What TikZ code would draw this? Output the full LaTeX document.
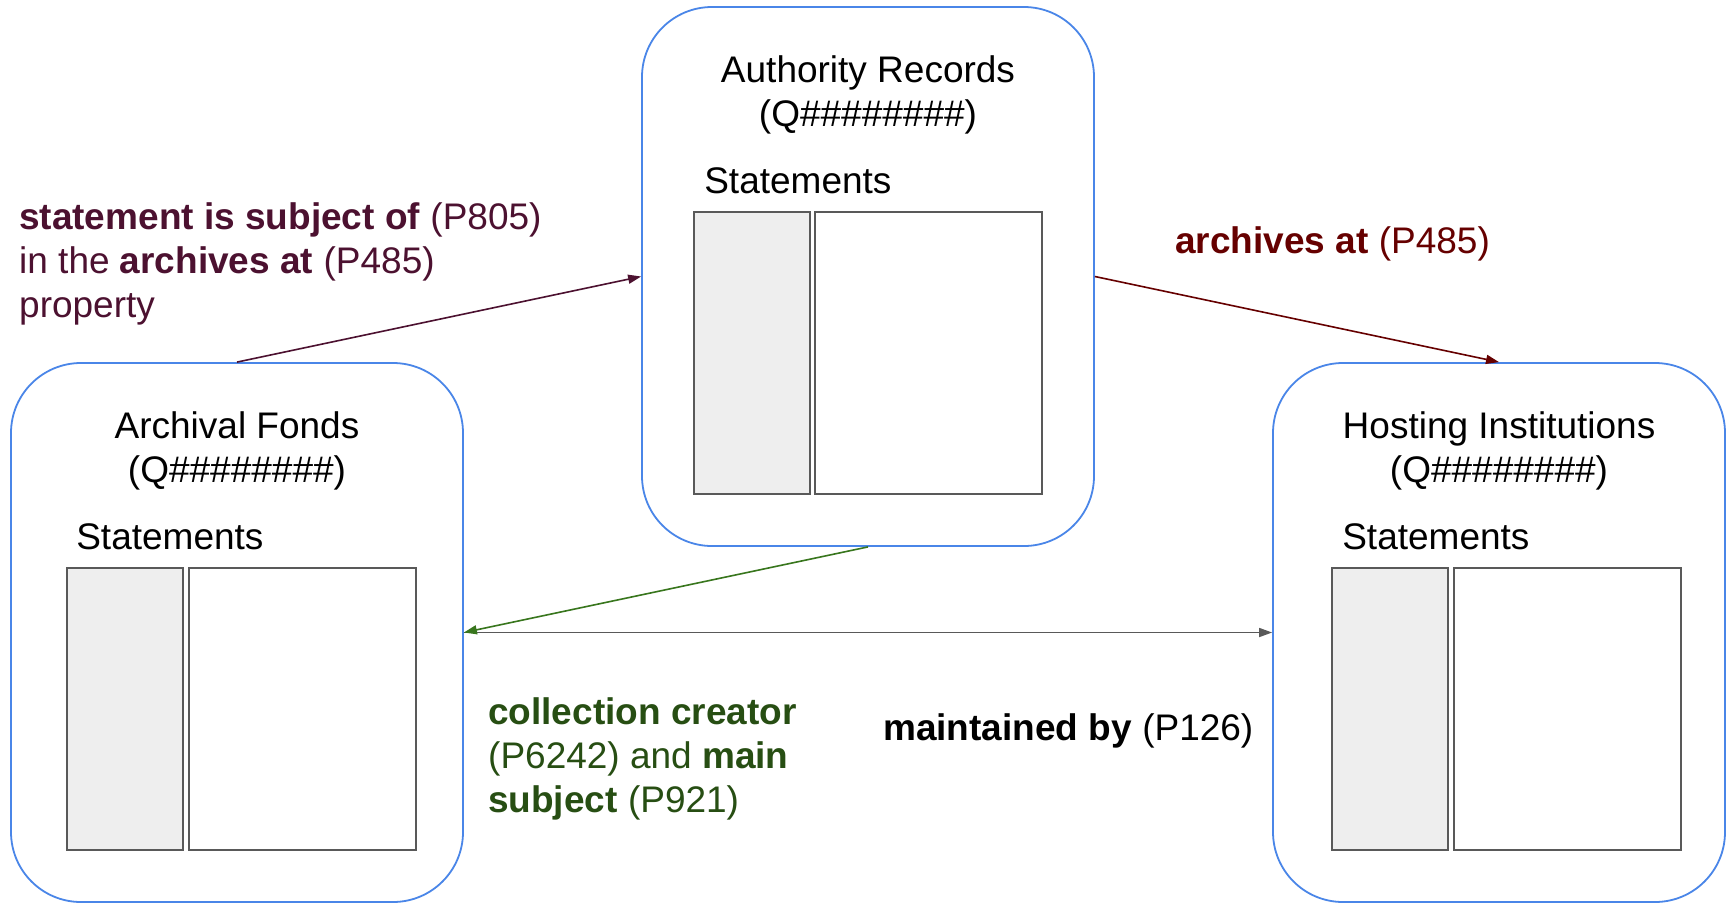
\documentclass[tikz,border=0pt]{standalone}
\usepackage{fontspec}
\setmainfont{Liberation Sans}
\usetikzlibrary{arrows.meta}
\definecolor{boxblue}{HTML}{4A86E8}
\definecolor{dmag}{HTML}{4C1130}
\definecolor{dred}{HTML}{660000}
\definecolor{dgreen}{HTML}{274E13}
\definecolor{agreen}{HTML}{38761D}
\definecolor{agray}{HTML}{595959}
\definecolor{lgray}{HTML}{EEEEEE}
\tikzset{
  entity/.style={draw=boxblue, line width=1.8pt, rounded corners=70pt, minimum width=452pt, minimum height=539pt, inner sep=0pt},
  txt/.style={inner sep=0pt, font=\fontsize{37}{44}\selectfont},
  keycol/.style={draw=agray, fill=lgray, line width=1.5pt, minimum width=116pt, minimum height=282pt, inner sep=0pt, anchor=north west},
  valcol/.style={draw=agray, fill=white, line width=1.5pt, minimum width=227pt, minimum height=282pt, inner sep=0pt, anchor=north west},
  conn/.style={line width=1.6pt, -{Triangle[length=13pt,width=9pt]}},
}
\begin{document}
\begin{tikzpicture}[x=1pt,y=-1pt]
\useasboundingbox (0,0) rectangle (1729,903);
\fill[white] (0,0) rectangle (1729,903);
% entity boxes
\node[entity] (auth) at (868,276.5) {};
\node[entity] (fonds) at (237,632.5) {};
\node[entity] (host) at (1499,632.5) {};
% titles and statements
\node[txt, anchor=base] (authT1) at ([yshift=-76pt]auth.north) {Authority Records};
\node[txt, anchor=base] (authT2) at ([yshift=-120pt]auth.north) {(Q\#\#\#\#\#\#\#\#)};
\node[txt, anchor=base west] (authS) at ([xshift=63pt,yshift=-187pt]auth.north west) {Statements};
\node[keycol] (authK) at ([xshift=52pt,yshift=-205pt]auth.north west) {};
\node[valcol] (authV) at ([xshift=173pt,yshift=-205pt]auth.north west) {};

\node[txt, anchor=base] (fondsT1) at ([yshift=-76pt]fonds.north) {Archival Fonds};
\node[txt, anchor=base] (fondsT2) at ([yshift=-120pt]fonds.north) {(Q\#\#\#\#\#\#\#\#)};
\node[txt, anchor=base west] (fondsS) at ([xshift=66pt,yshift=-187pt]fonds.north west) {Statements};
\node[keycol] (fondsK) at ([xshift=56pt,yshift=-205pt]fonds.north west) {};
\node[valcol] (fondsV) at ([xshift=178pt,yshift=-205pt]fonds.north west) {};

\node[txt, anchor=base] (hostT1) at ([yshift=-76pt]host.north) {Hosting Institutions};
\node[txt, anchor=base] (hostT2) at ([yshift=-120pt]host.north) {(Q\#\#\#\#\#\#\#\#)};
\node[txt, anchor=base west] (hostS) at ([xshift=70pt,yshift=-187pt]host.north west) {Statements};
\node[keycol] (hostK) at ([xshift=59pt,yshift=-205pt]host.north west) {};
\node[valcol] (hostV) at ([xshift=181pt,yshift=-205pt]host.north west) {};

% connectors
\draw[conn, draw=dmag, fill=dmag] (fonds.north) -- (auth.west);
\draw[conn, draw=dred, fill=dred] (auth.east) -- (host.north);
\draw[conn, draw=agray, fill=agray] (fonds.east) -- (host.west);
\draw[conn, draw=agreen, fill=agreen] (auth.south) -- (fonds.east);

% labels
\node[txt, anchor=base west, text=dmag] (l1a) at (19,229) {\textbf{statement is subject of} (P805)};
\node[txt, anchor=base west, text=dmag] (l1b) at (19,273) {in the \textbf{archives at} (P485)};
\node[txt, anchor=base west, text=dmag] (l1c) at (19,317) {property};
\node[txt, anchor=base west, text=dred] (l2) at (1175,253) {\textbf{archives at} (P485)};
\node[txt, anchor=base west, text=dgreen] (l3a) at (488,724) {\textbf{collection creator}};
\node[txt, anchor=base west, text=dgreen] (l3b) at (488,768) {(P6242) and \textbf{main}};
\node[txt, anchor=base west, text=dgreen] (l3c) at (488,812) {\textbf{subject} (P921)};
\node[txt, anchor=base west, text=black] (l4) at (883,740) {\textbf{maintained by} (P126)};
\end{tikzpicture}
\end{document}
